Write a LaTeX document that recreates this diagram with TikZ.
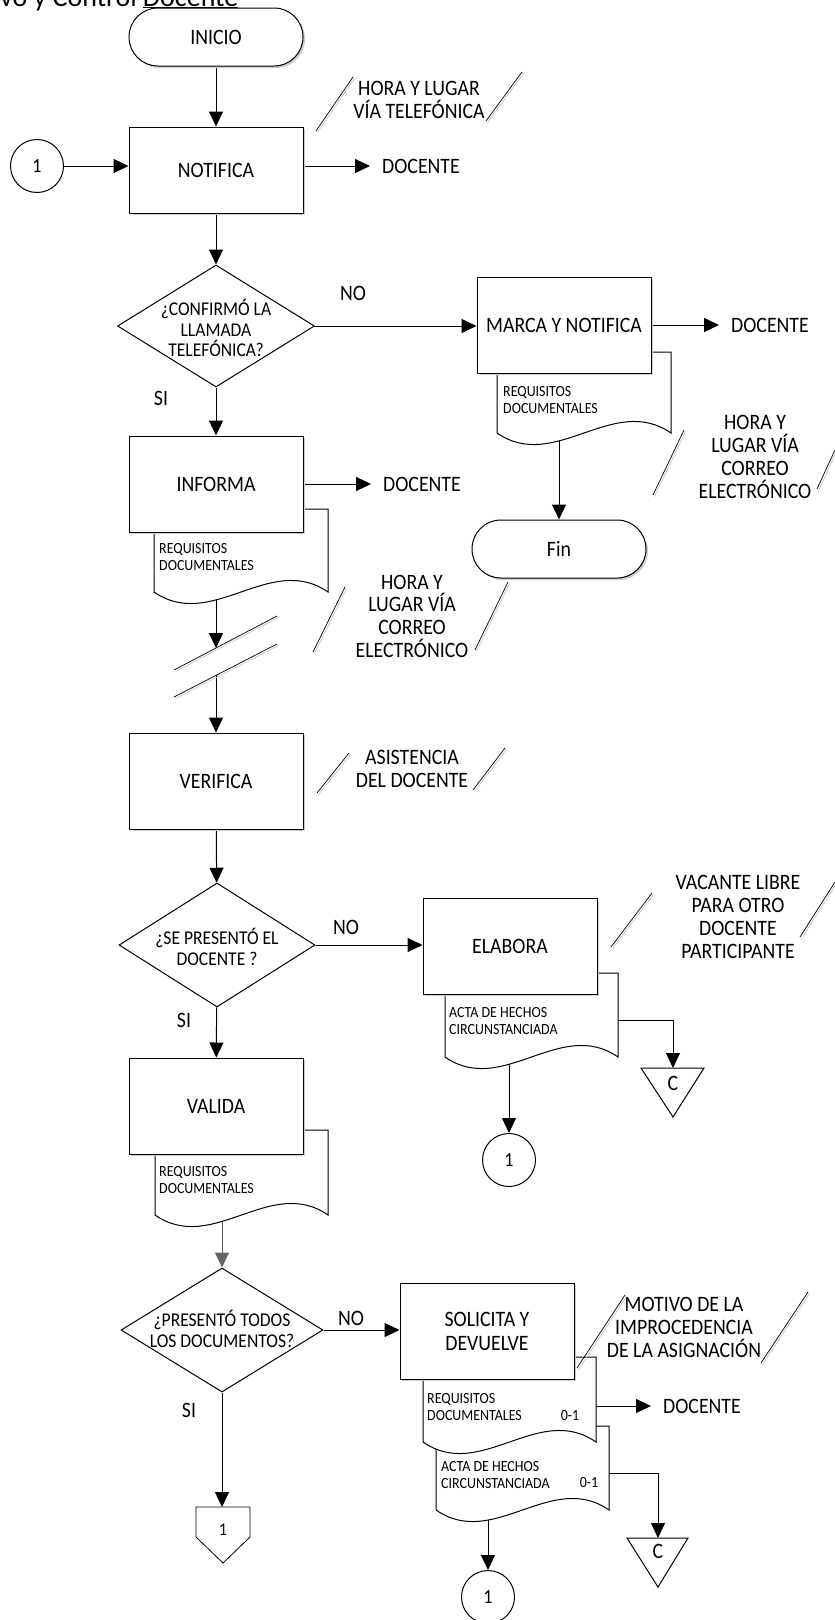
\documentclass[tikz,border=0pt]{standalone}
\usepackage{fontspec}
\setmainfont{Carlito}[FakeStretch=0.9]
\newfontfamily\titlefont{Carlito}
\usetikzlibrary{arrows.meta,shapes.geometric,shadows}
\pgfdeclarelayer{bg}
\pgfdeclarelayer{canvas}
\pgfsetlayers{canvas,bg,main}
\newcommand\annline[2]{\draw[gray!45,line width=.7pt] ([shift={(1.5,1.5)}]#1) -- ([shift={(1.5,1.5)}]#2); \draw[line width=.7pt] (#1) -- (#2);}
% left right top ybottom
\newcommand\docshape[4]{\draw[fill=white,line width=1pt] (#1,#3) -- (#2,#3) -- (#2,#4) .. controls ({#2-(#2-#1)/3},{#4-40}) and ({#1+(#2-#1)/3},{#4+40}) .. (#1,#4) -- cycle;}
\tikzset{
  every node/.style={inner sep=0pt},
  fbig/.style={font=\fontsize{22}{24}\selectfont},
  fdec/.style={font=\fontsize{19.5}{20.5}\selectfont},
  fsmall/.style={font=\fontsize{15.5}{16.5}\selectfont},
  shad/.style={drop shadow={shadow xshift=2pt,shadow yshift=-2pt,fill=gray!40,opacity=1}},
  proc/.style={draw,fill=white,line width=1pt,minimum width=174pt,minimum height=96pt,fbig,align=center,shad},
  term/.style={draw,fill=white,line width=1pt,rounded corners=28.9pt,minimum width=174pt,minimum height=58pt,fbig,shad},
  dec/.style={draw,fill=white,diamond,line width=1pt,inner sep=0pt},
  dtext/.style={fdec,align=center},
  conn/.style={draw,fill=white,circle,line width=1pt,minimum size=53pt,font=\fontsize{20}{22}\selectfont},
  lbl/.style={fbig},
  ann/.style={fbig,align=center,font=\fontsize{22}{23}\selectfont},
  tgt/.style={fbig,anchor=west,inner xsep=12pt},
  doct/.style={fsmall,align=left,anchor=west},
  arr/.style={-{Triangle[length=15pt,width=14pt]},line width=1pt},
  garr/.style={-{Triangle[length=15pt,width=14pt]},line width=1pt,draw=gray!80!black,fill=gray!80!black},
}
\begin{document}
\begin{tikzpicture}[x=1pt,y=-1pt]
\useasboundingbox (0,0) rectangle (835,1620);
\begin{pgfonlayer}{canvas}
\fill[white] (0,0) rectangle (835,1620);
\end{pgfonlayer}

% title (cut at top)
\node[anchor=base west,font=\titlefont\fontsize{28}{30}\selectfont] (title) at (0,6) {vo y Control \underline{Docente}};

% ---------- top section ----------
\node[term] (inicio) at (216,37) {INICIO};
\node[conn] (c1) at (37,166) {1};
\node[proc,minimum height=86pt] (notifica) at (216,170) {NOTIFICA};
\node[tgt] (dctA) at (370,166) {DOCENTE};
\node[ann] (annA) at (419,100) {HORA Y LUGAR\\VÍA TELEFÓNICA};
\annline{316,131}{353,77}
\annline{486,121}{522,72}

\node[dec,minimum width=197pt,minimum height=122pt] (d1) at (216,326) {};
\node[dtext] (d1t) at (216,328) {¿CONFIRMÓ LA\\LLAMADA\\TELEFÓNICA?};
\node[lbl] (no1) at (353,293) {NO};
\node[lbl] (si1) at (161,398) {SI};

% MARCA Y NOTIFICA
\docshape{497}{671}{352}{433}
\node[doct] (docMt) at (503,400) {REQUISITOS\\DOCUMENTALES};
\node[proc] (marca) at (564,325) {MARCA Y NOTIFICA};
\node[tgt] (dctB) at (719,325) {DOCENTE};
\node[term] (fin) at (559,549) {Fin};
\node[ann] (annB) at (755,457) {HORA Y\\LUGAR VÍA\\CORREO\\ELECTRÓNICO};
\annline{653,495}{684,430}
\annline{817,489}{835,450}

% INFORMA
\docshape{154}{328}{509}{592}
\node[doct] (docIt) at (159,557) {REQUISITOS\\DOCUMENTALES};
\node[proc] (informa) at (216,484) {INFORMA};
\node[tgt] (dctC) at (371,484) {DOCENTE};
\node[ann,font=\fontsize{22}{22.7}\selectfont] (annC) at (412,616) {HORA Y\\LUGAR VÍA\\CORREO\\ELECTRÓNICO};
\annline{313,652}{345,587}
\annline{475,650}{508,582}

% break lines
\annline{174,670}{277,616}
\annline{174,697}{277,644}
\coordinate (brk1) at (216,648);
\coordinate (brk2) at (216,675);

% VERIFICA
\node[proc] (verifica) at (216,781) {VERIFICA};
\node[ann] (annD) at (412,769) {ASISTENCIA\\DEL DOCENTE};
\annline{317,793}{349,753}
\annline{473,790}{505,748}

\node[dec,minimum width=196pt,minimum height=124pt] (d2) at (217,945) {};
\node[dtext] (d2t) at (217,947) {¿SE PRESENTÓ EL\\DOCENTE ?};
\node[lbl] (no2) at (346,927) {NO};
\node[lbl] (si2) at (184,1020) {SI};

% ELABORA
\docshape{445}{618}{973}{1057}
\node[doct] (docEt) at (449,1021) {ACTA DE HECHOS\\CIRCUNSTANCIADA};
\node[proc] (elabora) at (510,946) {ELABORA};
\draw[line width=1pt,fill=white] (641,1068) -- (704,1068) -- (673,1117) -- cycle;
\coordinate (triA) at (673,1068);
\node[fbig] (cA) at (673,1083) {C};
\node[conn] (c1b) at (509,1160) {1};
\node[ann] (annE) at (738,917) {VACANTE LIBRE\\PARA OTRO\\DOCENTE\\PARTICIPANTE};
\annline{611,947}{652,893}
\annline{800,937}{835,882}

% VALIDA
\docshape{155}{328}{1130}{1215}
\node[doct] (docVt) at (159,1180) {REQUISITOS\\DOCUMENTALES};
\node[proc] (valida) at (216,1106) {VALIDA};

\node[dec,minimum width=202pt,minimum height=124pt] (d3) at (222,1330) {};
\node[dtext] (d3t) at (222,1329) {¿PRESENTÓ TODOS\\LOS DOCUMENTOS?};
\node[lbl] (no3) at (351,1318) {NO};
\node[lbl] (si3) at (189,1410) {SI};

% SOLICITA Y DEVUELVE
\docshape{436}{609}{1426}{1510}
\node[doct] (docS2t) at (441,1475) {ACTA DE HECHOS\\CIRCUNSTANCIADA};
\node[fsmall] (docS2n) at (589,1483) {0-1};
\docshape{423}{596}{1357}{1442}
\node[doct] (docS1t) at (427,1407) {REQUISITOS\\DOCUMENTALES};
\node[fsmall] (docS1n) at (570,1416) {0-1};
\node[proc] (solicita) at (487,1331) {SOLICITA Y\\DEVUELVE};
\node[tgt] (dctD) at (651,1406) {DOCENTE};
\draw[line width=1pt,fill=white] (627,1538) -- (688,1538) -- (658,1587) -- cycle;
\coordinate (triB) at (658,1538);
\node[fbig] (cB) at (658,1551) {C};
\node[conn] (c1c) at (488,1597) {1};
\node[ann] (annF) at (684,1327) {MOTIVO DE LA\\IMPROCEDENCIA\\DE LA ASIGNACIÓN};
\annline{577,1368}{625,1295}
\annline{761,1363}{808,1292}

% off-page connector
\draw[line width=.8pt,fill=white] (196,1507) -- (250,1507) -- (250,1537) -- (223,1563) -- (196,1537) -- cycle;
\coordinate (offp) at (222,1507);
\node[font=\fontsize{18}{20}\selectfont] (offpt) at (223,1530) {1};

% ---------- connectors ----------
\begin{pgfonlayer}{bg}
\draw[arr] (inicio) -- (notifica);
\draw[arr] (c1) -- (c1 -| notifica.west);
\draw[arr] (notifica.east |- dctA.west) -- (dctA.west);
\draw[arr] (notifica) -- (d1);
\draw[arr] (d1.east) -- (d1.east -| marca.west);
\draw[arr] (marca.east |- dctB.west) -- (dctB.west);
\draw[arr] (d1) -- (informa);
\draw[arr] (informa.east |- dctC.west) -- (dctC.west);
\draw[arr] (559,420) -- (fin);
\draw[arr] (216,580) -- (brk1);
\draw[arr] (brk2) -- (verifica);
\draw[arr] (verifica) -- (d2);
\draw[arr] (d2.east) -- (d2.east -| elabora.west);
\draw[arr] (d2) -- (valida);
\draw[arr] (610,1020) -| (triA);
\draw[arr] (509,1040) -- (c1b);
\draw[garr] (222,1200) -- (d3);
\draw[arr] (d3.east) -- (d3.east -| solicita.west);
\draw[arr] (d3) -- (offp);
\draw[arr] (590,1406) -- (dctD.west);
\draw[arr] (600,1473) -| (triB);
\draw[arr] (488,1500) -- (c1c);
\end{pgfonlayer}
\end{tikzpicture}
\end{document}
